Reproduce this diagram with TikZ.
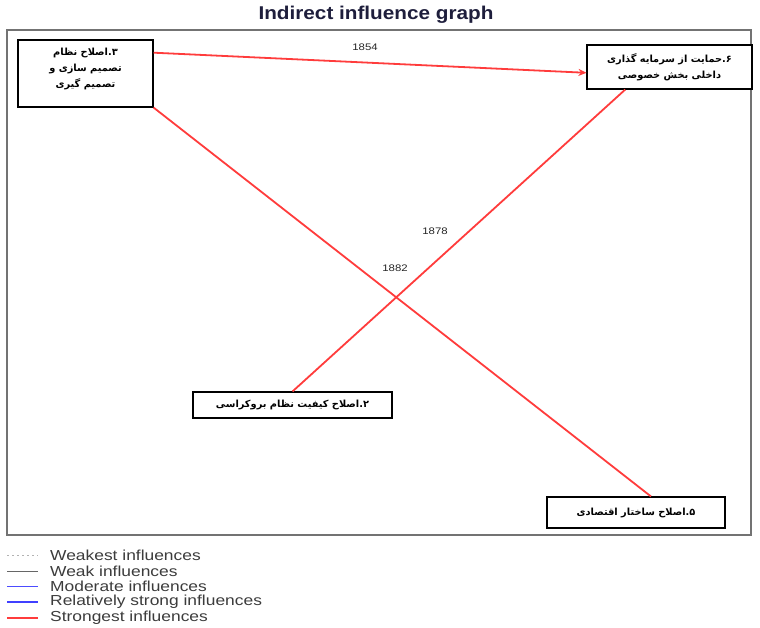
\documentclass[tikz,border=0pt]{standalone}
\usepackage{fontspec}
\setmainfont{Liberation Sans}
\newfontfamily\widefont[FakeStretch=1.2]{Liberation Sans}
\newfontfamily\titlefont[FakeStretch=1.12]{Liberation Sans}
\newfontfamily\arabicfont[Script=Arabic]{DejaVu Sans}
\TeXXeTstate=1
\usetikzlibrary{arrows.meta}
\definecolor{strongred}{RGB}{255,60,60}
\definecolor{titlecol}{RGB}{30,30,60}
\definecolor{legtext}{RGB}{60,60,60}
\tikzset{
  factor/.style={draw=black, line width=1.1pt, fill=white, align=center, inner sep=2pt,
     font=\arabicfont\bfseries\fontsize{9.8}{16}\selectfont},
  factortext/.style={align=center, inner sep=0pt,
     font=\arabicfont\bfseries\fontsize{9.8}{16}\selectfont},
  strongest/.style={draw=strongred, line width=1.8pt},
  elabel/.style={font=\widefont\fontsize{9.5}{10}\selectfont, text=black!85},
  legline/.style={line width=1pt},
  legtxt/.style={anchor=west, font=\widefont\fontsize{14.5}{15}\selectfont, text=legtext, inner sep=0pt}
}
\begin{document}
\begin{tikzpicture}[x=1pt,y=-1pt]
\useasboundingbox (0,0) rectangle (760,628);
\fill[white] (0,0) rectangle (760,628);
% title
\node[font=\titlefont\bfseries\fontsize{18.5}{20}\selectfont, text=titlecol] (title) at (376,15) {Indirect influence graph};
% frame
\draw[draw=black!55, line width=1.4pt] (7,30) rectangle (751,535);
% nodes
\node[factor, minimum width=135pt, minimum height=67pt] (n3) at (85.5,73.5) {};
\node[factortext] (n3t) at (85.5,69)
  {\beginR ۳.اصلاح نظام\endR\\ \beginR تصمیم سازی و\endR\\ \beginR تصمیم گیری\endR};
\node[factor, minimum width=165pt, minimum height=44pt] (n6) at (669.5,67)
  {\beginR ۶.حمایت از سرمایه گذاری\endR\\ \beginR داخلی بخش خصوصی\endR};
\node[factor, minimum width=199pt, minimum height=26pt] (n2) at (292.5,405)
  {\beginR ۲.اصلاح کیفیت نظام بروکراسی\endR};
\node[factor, minimum width=178pt, minimum height=31pt] (n5) at (636,512.5)
  {\beginR ۵.اصلاح ساختار اقتصادی\endR};
% edges
\draw[strongest, -{Stealth[length=8pt,width=7pt]}] (n3.17.7) -- (n6.184.2);
\draw[strongest] (n2.north) -- (n6.207.9);
\draw[strongest] (n3.south east) -- (n5.47.9);
% edge labels
\node[elabel] (l1854) at (365,47) {1854};
\node[elabel] (l1878) at (435,231) {1878};
\node[elabel] (l1882) at (395,268) {1882};
% legend
\coordinate (a1) at (7,555); \coordinate (b1) at (38,555);
\coordinate (a2) at (7,571); \coordinate (b2) at (38,571);
\coordinate (a3) at (7,586); \coordinate (b3) at (38,586);
\coordinate (a4) at (7,602); \coordinate (b4) at (38,602);
\coordinate (a5) at (7,618); \coordinate (b5) at (38,618);
\draw[legline, draw=black!30, dash pattern=on 2pt off 3pt] (a1) -- (b1);
\draw[legline, draw=black!60] (a2) -- (b2);
\draw[legline, draw=blue!70] (a3) -- (b3);
\draw[line width=1.8pt, draw=blue!75] (a4) -- (b4);
\draw[line width=1.8pt, draw=strongred] (a5) -- (b5);
\node[legtxt] (t1) at (50,555) {Weakest influences};
\node[legtxt] (t2) at (50,571) {Weak influences};
\node[legtxt] (t3) at (50,586) {Moderate influences};
\node[legtxt] (t4) at (50,602) {Relatively strong influences};
\node[legtxt] (t5) at (50,618) {Strongest influences};
\end{tikzpicture}
\end{document}
